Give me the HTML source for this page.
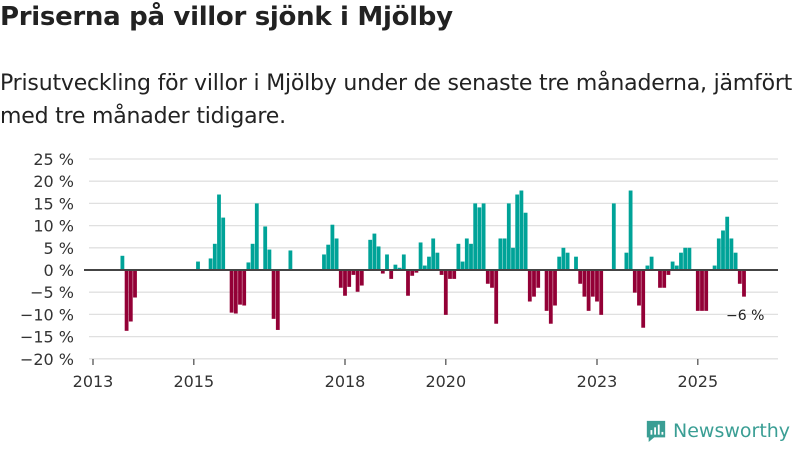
<!DOCTYPE html>
<html><head><meta charset="utf-8"><style>
body{margin:0;width:800px;height:450px;background:#fff;font-family:"Liberation Sans","DejaVu Sans",sans-serif;overflow:hidden;position:relative;color:#222}
h1{position:absolute;left:0;top:2px;margin:0;font-size:26px;font-weight:bold;font-family:"DejaVu Sans","Liberation Sans",sans-serif;letter-spacing:-0.3px}
.sub{position:absolute;left:0;top:67px;font-size:22px;line-height:33px;width:800px;font-family:"DejaVu Sans","Liberation Sans",sans-serif;color:#222;letter-spacing:-0.2px}
svg{position:absolute;left:0;top:0}
.logo{position:absolute;left:645px;top:419px;font-size:19px;color:#3a9e94;font-family:"DejaVu Sans",sans-serif;display:flex;align-items:center;gap:6px;white-space:nowrap}
</style></head><body>
<h1>Priserna på villor sjönk i Mjölby</h1>
<div class="sub">Prisutveckling för villor i Mjölby under de senaste tre månaderna, jämfört med tre månader tidigare.</div>
<svg id="chart" width="800" height="450"></svg>
<div class="logo"><svg width="22" height="24" viewBox="0 0 24 26" style="position:static"><path d="M2 2h20v18H10l-6 5v-5H2z" fill="#3a9e94"/><rect x="6" y="12" width="2" height="5" fill="#fff"/><rect x="10" y="9" width="2" height="8" fill="#fff"/><rect x="14" y="6" width="2" height="11" fill="#fff"/><rect x="18" y="14" width="2" height="3" fill="#fff"/></svg><span>Newsworthy</span></div>
<script>
const monthIdx=[7,8,9,10,25,28,29,30,31,33,34,35,36,37,38,39,41,42,43,44,47,55,56,57,58,59,60,61,62,63,64,66,67,68,69,70,71,72,73,74,75,76,77,78,79,80,81,82,83,84,85,86,87,88,89,90,91,92,93,94,95,96,97,98,99,100,101,102,103,104,105,106,108,109,110,111,112,113,115,116,117,118,119,120,121,124,127,128,129,130,131,132,133,135,136,137,138,139,140,141,142,144,145,146,148,149,150,151,152,153,154,155];
const values=[3.2,-13.7,-11.6,-6.2,1.9,2.6,5.9,17,11.8,-9.6,-9.8,-7.8,-8,1.7,5.9,15,9.8,4.6,-11,-13.5,4.4,3.5,5.7,10.2,7.1,-4,-5.8,-3.8,-1.1,-4.9,-3.5,6.8,8.2,5.3,-0.8,3.5,-2,1.2,0.5,3.5,-5.8,-1.3,-0.6,6.2,1,3,7.1,3.9,-1.1,-10.1,-2,-2,5.9,1.9,7.1,5.9,15,14.1,15,-3.1,-4,-12.1,7.1,7.1,15,5,17,17.9,12.9,-7.1,-6,-4,-9.2,-12.1,-8,3,5,3.9,3,-3.1,-6,-9.2,-6,-7.1,-10.1,15,3.9,17.9,-5.1,-8,-13,1,3,-4,-4,-1.1,1.9,1,3.9,5,5,-9.2,-9.2,-9.2,1,7.1,8.9,12,7.1,3.9,-3.1,-6];
const yTicks=[25,20,15,10,5,0,-5,-10,-15,-20];
const xTickYears=[2013,2015,2018,2020,2023,2025];
const lastLabel="−6 %";
const svg=document.getElementById('chart');const NS='http://www.w3.org/2000/svg';
const y=v=>270-v*4.44;
const x=m=>93+m*4.2;
const xYear=yr=>x((yr-2013)*12);
function mk(t,a){const e=document.createElementNS(NS,t);for(const k in a)e.setAttribute(k,a[k]);svg.appendChild(e);return e;}
yTicks.forEach(v=>{
 if(v!==0){const g=mk('line',{x1:89,x2:778,y1:y(v),y2:y(v),stroke:'#e0e0e0','stroke-width':1.3});
 
 }
 const t=mk('text',{x:74,y:y(v)+6,'text-anchor':'end','font-size':16,fill:'#333','font-family':'DejaVu Sans, sans-serif'});
 t.textContent=(v<0?'−'+(-v):v)+' %';
 
 
});
monthIdx.forEach((m,i)=>{const v=values[i];
 const r=mk('rect',{x:x(m)-1.9,width:3.8,y:v>=0?y(v):y(0),height:Math.abs(y(v)-y(0)),fill:v>=0?'#00a398':'#930036'});
 
 
});
const z=mk('line',{x1:84,x2:778,y1:y(0),y2:y(0),stroke:'#444','stroke-width':2});


xTickYears.forEach(yr=>{
 const l=mk('line',{x1:xYear(yr),x2:xYear(yr),y1:359,y2:365,stroke:'#555','stroke-width':1.3});
 
 
 const t=mk('text',{x:xYear(yr),y:387,'text-anchor':'middle','font-size':16,fill:'#333','font-family':'DejaVu Sans, sans-serif'});
 t.textContent=yr;
 
 
});
const lb=mk('text',{x:726,y:320,'font-size':14,fill:'#222','font-family':'DejaVu Sans, sans-serif'});
lb.textContent=lastLabel;


</script>
</body></html>
